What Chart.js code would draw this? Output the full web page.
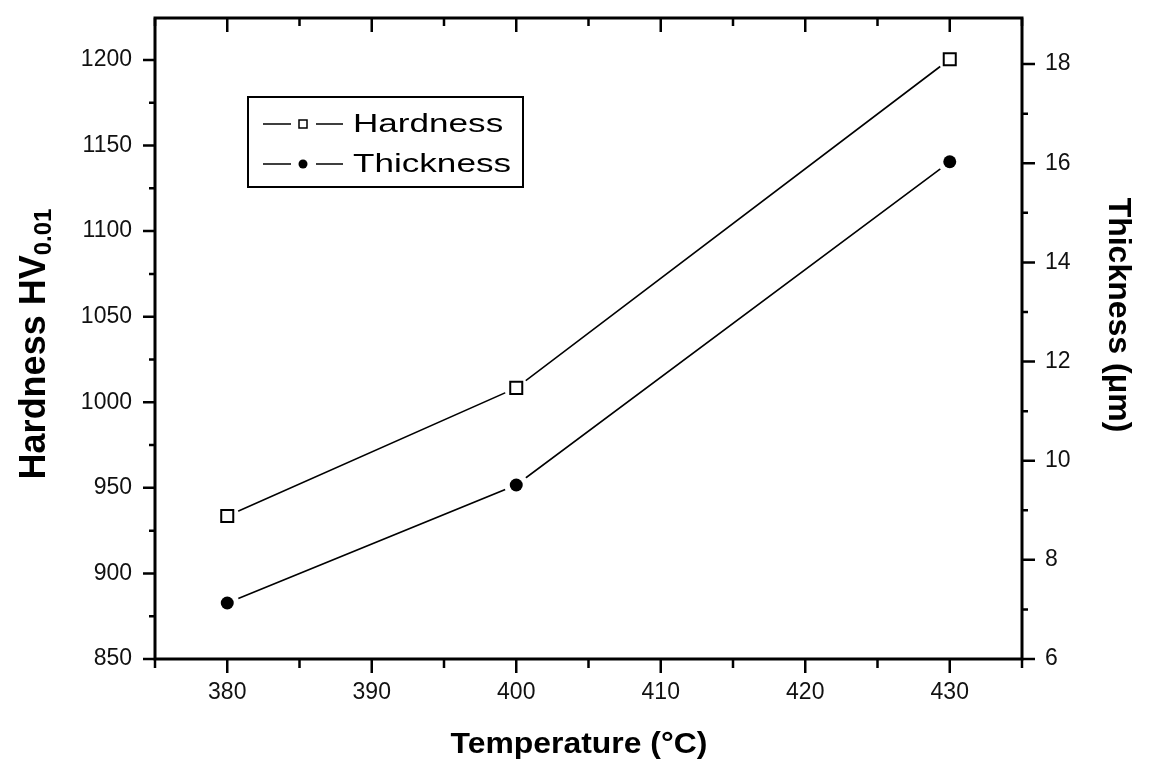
<!DOCTYPE html>
<html>
<head>
<meta charset="utf-8">
<script src="https://cdn.jsdelivr.net/npm/chart.js@4.4.1/dist/chart.umd.min.js"></script>
<style>
html,body{margin:0;padding:0;background:#fff;}
canvas{display:block;}
</style>
</head>
<body>
<canvas id="c" width="1156" height="764"></canvas>
<script>
// ---- data ----
const temperatures = [380, 400, 430];
const hardness = [933.6, 1008.4, 1200.4];
const thickness = [7.13, 9.51, 16.03];
const seriesNames = ['Hardness', 'Thickness'];
const xTicks = [375, 380, 385, 390, 395, 400, 405, 410, 415, 420, 425, 430, 435];
const xTickLabels = [380, 390, 400, 410, 420, 430];
const yTicks = [850, 875, 900, 925, 950, 975, 1000, 1025, 1050, 1075, 1100, 1125, 1150, 1175, 1200];
const yTickLabels = [850, 900, 950, 1000, 1050, 1100, 1150, 1200];
const y2Ticks = [6, 7, 8, 9, 10, 11, 12, 13, 14, 15, 16, 17, 18];
const y2TickLabels = [6, 8, 10, 12, 14, 16, 18];
const xTitle = 'Temperature (\u00B0C)';
const yTitleMain = 'Hardness HV';
const yTitleSub = '0.01';
const y2Title = 'Thickness (\u03BCm)';

const hardPts = temperatures.map((t, i) => ({x: t, y: hardness[i]}));
const thickPts = temperatures.map((t, i) => ({x: t, y: thickness[i]}));

const tickFont = {family: 'Liberation Sans, Arial, sans-serif', size: 23};

function fitBox(w, h) {
  return s => {
    if (w !== null) s.width = w;
    if (h !== null) s.height = h;
    s.paddingTop = 0; s.paddingBottom = 0; s.paddingLeft = 0; s.paddingRight = 0;
  };
}
function setTicks(vals) {
  return s => { s.ticks = vals.map(v => ({value: v})); };
}
function labelFrom(list) {
  return v => (list.indexOf(v) >= 0 ? String(v) : '');
}

const decorPlugin = {
  id: 'decor',
  afterDraw(chart) {
    const ctx = chart.ctx;
    const {left, right, top, bottom} = chart.chartArea;
    const sx = chart.scales.x, sy = chart.scales.y, sy2 = chart.scales.y2;
    ctx.save();
    ctx.strokeStyle = '#000';
    ctx.lineCap = 'butt';
    // frame
    ctx.lineWidth = 3;
    ctx.strokeRect(left, top, right - left, bottom - top);
    // ticks
    ctx.lineWidth = 2.5;
    ctx.beginPath();
    xTicks.forEach(v => {
      const p = sx.getPixelForValue(v);
      const major = xTickLabels.indexOf(v) >= 0;
      ctx.moveTo(p, bottom); ctx.lineTo(p, bottom + (major ? 14 : 9));
      ctx.moveTo(p, top); ctx.lineTo(p, top + (major ? 14 : 8));
    });
    yTicks.forEach(v => {
      const p = sy.getPixelForValue(v);
      const major = yTickLabels.indexOf(v) >= 0;
      ctx.moveTo(left - (major ? 12 : 6), p); ctx.lineTo(left, p);
    });
    y2Ticks.forEach(v => {
      const p = sy2.getPixelForValue(v);
      const major = y2TickLabels.indexOf(v) >= 0;
      ctx.moveTo(right, p); ctx.lineTo(right + (major ? 13 : 6), p);
    });
    ctx.stroke();

    ctx.fillStyle = '#000';
    // bottom title
    ctx.save();
    ctx.font = 'bold 29px "Liberation Sans", Arial, sans-serif';
    ctx.textAlign = 'center';
    ctx.textBaseline = 'alphabetic';
    ctx.translate(579, 753);
    ctx.scale(1.1, 1);
    ctx.fillText(xTitle, 0, 0);
    ctx.restore();

    // left title with subscript
    ctx.save();
    ctx.translate(45, 344);
    ctx.rotate(-Math.PI / 2);
    ctx.textBaseline = 'alphabetic';
    ctx.textAlign = 'left';
    ctx.font = 'bold 36px "Liberation Sans", Arial, sans-serif';
    const w1 = ctx.measureText(yTitleMain).width;
    ctx.font = 'bold 24px "Liberation Sans", Arial, sans-serif';
    const w2 = ctx.measureText(yTitleSub).width;
    const start = -(w1 + w2) / 2;
    ctx.font = 'bold 36px "Liberation Sans", Arial, sans-serif';
    ctx.fillText(yTitleMain, start, 0);
    ctx.font = 'bold 24px "Liberation Sans", Arial, sans-serif';
    ctx.fillText(yTitleSub, start + w1, 6);
    ctx.restore();

    // right title
    ctx.save();
    ctx.translate(1109, 315);
    ctx.rotate(Math.PI / 2);
    ctx.textAlign = 'center';
    ctx.textBaseline = 'alphabetic';
    ctx.font = 'bold 32px "Liberation Sans", Arial, sans-serif';
    ctx.fillText(y2Title, 0, 0);
    ctx.restore();

    // legend
    ctx.lineWidth = 2;
    ctx.strokeRect(248, 97, 275, 90);
    const rows = [{y: 124, name: seriesNames[0], type: 'square'}, {y: 164, name: seriesNames[1], type: 'dot'}];
    rows.forEach(r => {
      ctx.lineWidth = 1.5;
      ctx.beginPath();
      ctx.moveTo(263, r.y); ctx.lineTo(291, r.y);
      ctx.moveTo(316, r.y); ctx.lineTo(343, r.y);
      ctx.stroke();
      if (r.type === 'square') {
        ctx.fillStyle = '#fff';
        ctx.fillRect(299, r.y - 4, 8, 8);
        ctx.strokeRect(299, r.y - 4, 8, 8);
      } else {
        ctx.fillStyle = '#000';
        ctx.beginPath();
        ctx.arc(303, r.y, 4.5, 0, Math.PI * 2);
        ctx.fill();
      }
      ctx.fillStyle = '#000';
      ctx.save();
      ctx.font = '26px "Liberation Sans", Arial, sans-serif';
      ctx.textAlign = 'left';
      ctx.textBaseline = 'middle';
      ctx.translate(353, r.y + 1);
      ctx.scale(1.35, 1);
      ctx.fillText(r.name, 0, 0);
      ctx.restore();
    });
    ctx.restore();
  }
};

new Chart(document.getElementById('c'), {
  type: 'line',
  data: {
    datasets: [
      {
        label: 'Hardness markers', data: hardPts, xAxisID: 'x', yAxisID: 'y',
        showLine: false, pointStyle: 'rect', pointRadius: 8.5, pointBorderWidth: 2,
        pointBackgroundColor: '#fff', pointBorderColor: '#000', order: 1
      },
      {
        label: 'Thickness markers', data: thickPts, xAxisID: 'x', yAxisID: 'y2',
        showLine: false, pointStyle: 'circle', pointRadius: 6.5, pointBorderWidth: 0,
        pointBackgroundColor: '#000', pointBorderColor: '#000', order: 1
      },
      {
        label: 'Hardness', data: hardPts, xAxisID: 'x', yAxisID: 'y',
        borderColor: '#000', borderWidth: 1.6, tension: 0,
        pointRadius: 12, pointBorderWidth: 0, pointBackgroundColor: '#fff', pointBorderColor: '#fff', order: 3
      },
      {
        label: 'Thickness', data: thickPts, xAxisID: 'x', yAxisID: 'y2',
        borderColor: '#000', borderWidth: 1.6, tension: 0,
        pointRadius: 12, pointBorderWidth: 0, pointBackgroundColor: '#fff', pointBorderColor: '#fff', order: 3
      }
    ]
  },
  options: {
    responsive: false,
    animation: false,
    devicePixelRatio: 1,
    layout: {padding: {top: 18, left: 0, right: 0, bottom: 0}},
    plugins: {legend: {display: false}, tooltip: {enabled: false}},
    events: [],
    scales: {
      x: {
        type: 'linear', position: 'bottom', min: 375, max: 435,
        grid: {display: false, drawTicks: false},
        border: {display: false},
        ticks: {autoSkip: false, maxRotation: 0, padding: 20, color: '#111', font: tickFont,
          callback: labelFrom(xTickLabels)},
        afterBuildTicks: setTicks(xTicks),
        afterFit: fitBox(null, 105)
      },
      y: {
        type: 'linear', position: 'left', min: 850, max: 1224.5,
        grid: {display: false, drawTicks: false},
        border: {display: false},
        ticks: {autoSkip: false, padding: 23, color: '#111', font: tickFont,
          callback: labelFrom(yTickLabels)},
        afterBuildTicks: setTicks(yTicks),
        afterFit: fitBox(155, null)
      },
      y2: {
        type: 'linear', position: 'right', min: 6, max: 18.93,
        grid: {display: false, drawTicks: false},
        border: {display: false},
        ticks: {autoSkip: false, padding: 23, color: '#111', font: tickFont,
          callback: labelFrom(y2TickLabels)},
        afterBuildTicks: setTicks(y2Ticks),
        afterFit: fitBox(134, null)
      }
    }
  },
  plugins: [decorPlugin]
});
</script>
</body>
</html>
